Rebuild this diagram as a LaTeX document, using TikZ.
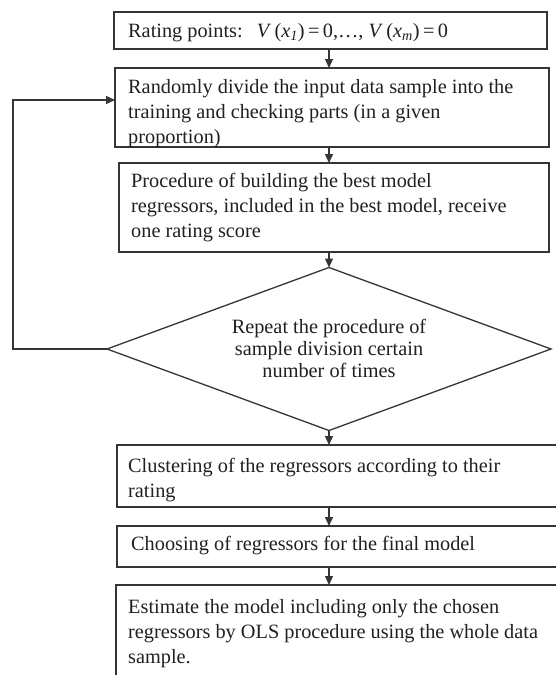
\documentclass[tikz,border=0pt]{standalone}
\usepackage{fontspec}
\setmainfont{Liberation Serif}
\usetikzlibrary{arrows.meta,shapes.geometric}
\definecolor{ln}{HTML}{353535}
\definecolor{tx}{HTML}{202020}
\newcommand\fs{\fontsize{20.3}{25}\selectfont}
\tikzset{
  box/.style={draw=ln, line width=1.3pt, rectangle, inner sep=0pt, outer sep=0pt},
  dia/.style={draw=ln, line width=1.3pt, diamond, inner sep=0pt, outer sep=0pt},
  txt/.style={anchor=base west, inner sep=0pt, font=\fs, text=tx},
  ctxt/.style={anchor=base, inner sep=0pt, font=\fs, text=tx},
  arr/.style={draw=ln, line width=1.3pt, -{Triangle[length=9pt,width=8pt]}}
}
\begin{document}
\begin{tikzpicture}[x=1pt,y=-1pt]
\useasboundingbox (0,0) rectangle (556,675);
\clip (0,0) rectangle (556,675);
% boxes
\node[box, minimum width=433pt, minimum height=37pt] (b1) at (330.5,30.5) {};
\node[box, minimum width=434pt, minimum height=79pt] (b2) at (332,107.5) {};
\node[box, minimum width=430pt, minimum height=89pt] (b3) at (334,207.5) {};
\node[dia, minimum width=444pt, minimum height=163pt] (d) at (329,349) {};
\node[box, minimum width=448pt, minimum height=62pt] (b4) at (341,476) {};
\node[box, minimum width=448pt, minimum height=41pt] (b5) at (341,546.5) {};
\node[box, minimum width=449pt, minimum height=105pt] (b6) at (340.5,637.5) {};
% texts
\node[txt] (t1) at (128,37) {Rating points:\hspace{0.7em}\textit{V}\,(\textit{x}\textsubscript{\textit{1}})\,=\,0,…, \textit{V}\,(\textit{x}\textsubscript{\textit{m}})\,=\,0};
\node[txt] (t2a) at (128,93) {Randomly divide the input data sample into the};
\node[txt] (t2b) at (128,118) {training and checking parts (in a given};
\node[txt] (t2c) at (128,143) {proportion)};
\node[txt] (t3a) at (131,187) {Procedure of building the best model};
\node[txt] (t3b) at (131,212) {regressors, included in the best model, receive};
\node[txt] (t3c) at (131,237) {one rating score};
\node[ctxt] (tda) at (329,333) {Repeat the procedure of};
\node[ctxt] (tdb) at (329,355) {sample division certain};
\node[ctxt] (tdc) at (329,377) {number of times};
\node[txt] (t4a) at (128,472) {Clustering of the regressors according to their};
\node[txt] (t4b) at (128,497) {rating};
\node[txt] (t5) at (131,550) {Choosing of regressors for the final model};
\node[txt] (t6a) at (128,613) {Estimate the model including only the chosen};
\node[txt] (t6b) at (128,638) {regressors by OLS procedure using the whole data};
\node[txt] (t6c) at (128,663) {sample.};
% connectors
\draw[arr] (b1.south -| d.north) -- (b2.north -| d.north);
\draw[arr] (b2.south -| d.north) -- (b3.north -| d.north);
\draw[arr] (b3.south -| d.north) -- (d.north);
\draw[arr] (d.south) -- (b4.north -| d.south);
\draw[arr] (b4.south -| d.north) -- (b5.north -| d.north);
\draw[arr] (b5.south -| d.north) -- (b6.north -| d.north);
\coordinate (lp) at (13,100);
\draw[arr] (d.west) -| (lp) -- (lp -| b2.west);
\end{tikzpicture}
\end{document}
